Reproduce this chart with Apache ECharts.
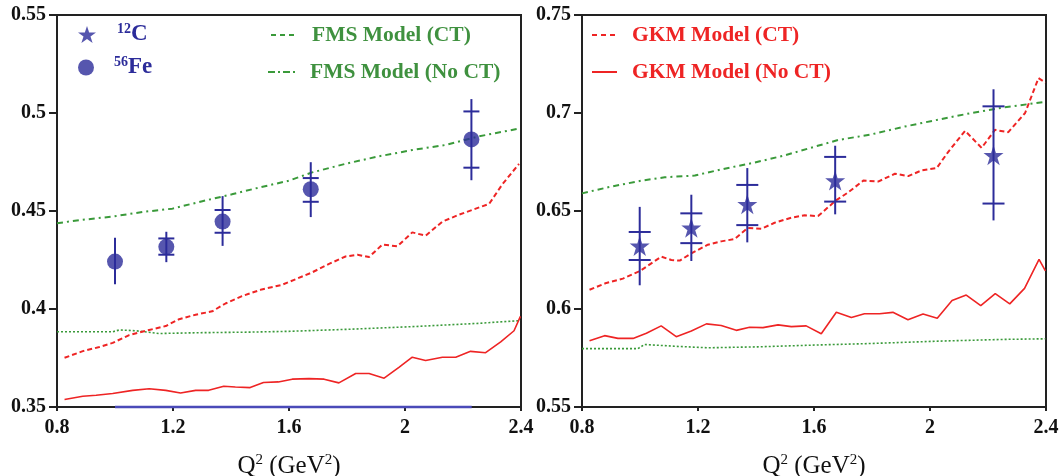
<!DOCTYPE html>
<html>
<head>
<meta charset="utf-8">
<script src="https://cdn.jsdelivr.net/npm/echarts@6/dist/echarts.min.js"></script>
<style>
  html, body { margin: 0; padding: 0; background: #fff; }
  #chart { width: 1059px; height: 476px; }
</style>
</head>
<body>
<div id="chart"></div>
<script>
// ---------- Left panel: 56Fe data and model curves ----------
const feQ2     = [1.0, 1.177, 1.371, 1.675, 2.229];
const feVal    = [0.4242, 0.4317, 0.4446, 0.4611, 0.4865];
const feErrLo  = [0.4126, 0.4239, 0.4322, 0.4469, 0.4657];
const feErrHi  = [0.4363, 0.4394, 0.4576, 0.4749, 0.5071];
const feStatLo = [null, 0.4277, 0.4389, 0.4547, 0.4721];
const feStatHi = [null, 0.4360, 0.4505, 0.4668, 0.5008];

const baseQ2  = [1.0, 2.23];
const baseVal = [0.35, 0.35];

const fmsCtLQ2 = [0.8, 0.889, 0.992, 1.095, 1.198, 1.301, 1.403, 1.495, 1.598, 1.68, 1.795, 1.91, 2.025, 2.14, 2.255, 2.398];
const fmsCtL   = [0.4438, 0.4455, 0.4472, 0.4495, 0.4512, 0.455, 0.4585, 0.4619, 0.4654, 0.4697, 0.4741, 0.4779, 0.4811, 0.4837, 0.4881, 0.4922];

const fmsNoLQ2 = [0.8, 0.992, 1.015, 1.072, 1.152, 1.289, 1.461, 1.598, 1.795, 2.025, 2.255, 2.398];
const fmsNoL   = [0.3884, 0.3884, 0.3893, 0.3889, 0.3875, 0.3879, 0.3882, 0.3886, 0.3896, 0.391, 0.3927, 0.3941];

const gkmCtLQ2 = [0.826, 0.889, 0.946, 0.992, 1.049, 1.118, 1.175, 1.221, 1.278, 1.335, 1.381, 1.438, 1.506, 1.575, 1.623, 1.68, 1.738, 1.795, 1.836, 1.876, 1.922, 1.974, 2.025, 2.071, 2.129, 2.186, 2.244, 2.29, 2.336, 2.393];
const gkmCtL   = [0.3751, 0.3785, 0.3806, 0.3827, 0.3867, 0.3893, 0.3913, 0.3948, 0.3971, 0.3988, 0.4028, 0.4066, 0.41, 0.4123, 0.4152, 0.4187, 0.423, 0.4268, 0.4277, 0.4265, 0.4329, 0.432, 0.4391, 0.4374, 0.4446, 0.4481, 0.4512, 0.4536, 0.4637, 0.474];

const gkmNoLQ2 = [0.826, 0.889, 0.935, 0.992, 1.061, 1.118, 1.175, 1.226, 1.278, 1.323, 1.375, 1.415, 1.466, 1.512, 1.563, 1.611, 1.669, 1.721, 1.772, 1.83, 1.876, 1.928, 1.979, 2.025, 2.071, 2.129, 2.175, 2.226, 2.278, 2.33, 2.376, 2.398];
const gkmNoL   = [0.3538, 0.3555, 0.356, 0.3569, 0.3585, 0.3593, 0.3585, 0.3571, 0.3585, 0.3585, 0.3606, 0.3602, 0.3599, 0.3625, 0.3628, 0.3642, 0.3645, 0.3642, 0.3623, 0.3671, 0.3671, 0.3647, 0.3702, 0.3754, 0.3737, 0.3754, 0.3754, 0.3784, 0.3777, 0.3832, 0.3889, 0.3962];

// ---------- Right panel: 12C data and model curves ----------
const cQ2     = [0.999, 1.177, 1.370, 1.673, 2.219];
const cVal    = [0.6322, 0.6414, 0.6534, 0.6655, 0.6784];
const cErrLo  = [0.6121, 0.6245, 0.6340, 0.6483, 0.6452];
const cErrHi  = [0.6521, 0.6583, 0.6719, 0.6833, 0.7121];
const cStatLo = [0.6250, 0.6336, 0.6428, 0.6548, 0.6538];
const cStatHi = [0.6393, 0.6488, 0.6633, 0.6776, 0.7034];

const fmsCtRQ2 = [0.8, 0.89, 1.005, 1.085, 1.189, 1.292, 1.395, 1.499, 1.602, 1.683, 1.798, 1.913, 2.028, 2.143, 2.258, 2.398];
const fmsCtR   = [0.659, 0.6621, 0.6655, 0.6672, 0.6681, 0.6716, 0.6747, 0.6784, 0.6828, 0.6862, 0.6891, 0.6931, 0.6966, 0.7, 0.7029, 0.7057];

const fmsNoRQ2 = [0.8, 0.993, 1.016, 1.119, 1.234, 1.407, 1.602, 1.798, 2.028, 2.258, 2.398];
const fmsNoR   = [0.5798, 0.5798, 0.5819, 0.581, 0.5802, 0.5807, 0.5816, 0.5824, 0.5836, 0.5845, 0.5848];

const gkmCtRQ2 = [0.826, 0.884, 0.941, 0.999, 1.039, 1.074, 1.108, 1.137, 1.177, 1.234, 1.28, 1.326, 1.372, 1.418, 1.464, 1.522, 1.568, 1.614, 1.674, 1.718, 1.77, 1.821, 1.879, 1.925, 1.971, 2.023, 2.063, 2.121, 2.178, 2.224, 2.27, 2.328, 2.374, 2.398];
const gkmCtR   = [0.6098, 0.6133, 0.6155, 0.6193, 0.6233, 0.6267, 0.625, 0.6247, 0.6284, 0.6328, 0.6345, 0.6357, 0.6414, 0.6409, 0.644, 0.6466, 0.6478, 0.6474, 0.6552, 0.6595, 0.6655, 0.665, 0.669, 0.6678, 0.6707, 0.6719, 0.6802, 0.6909, 0.6822, 0.6914, 0.6902, 0.7, 0.7178, 0.7155];

const gkmNoRQ2 = [0.826, 0.878, 0.924, 0.976, 1.022, 1.073, 1.125, 1.177, 1.229, 1.28, 1.332, 1.378, 1.424, 1.476, 1.522, 1.573, 1.625, 1.677, 1.729, 1.774, 1.826, 1.872, 1.924, 1.976, 2.025, 2.076, 2.125, 2.175, 2.225, 2.275, 2.326, 2.376, 2.398];
const gkmNoR   = [0.5838, 0.5864, 0.585, 0.585, 0.5876, 0.5914, 0.5859, 0.5888, 0.5924, 0.5916, 0.5891, 0.5907, 0.5905, 0.5919, 0.591, 0.5914, 0.5874, 0.5983, 0.5957, 0.5976, 0.5976, 0.5983, 0.5945, 0.5974, 0.5953, 0.6043, 0.6071, 0.6017, 0.6078, 0.6026, 0.6105, 0.6253, 0.6195];

// ---------- Axis ranges and tick labels ----------
const xRange = { min: 0.8, max: 2.4, interval: 0.4 };
const xTickLabels = ['0.8', '1.2', '1.6', '2', '2.4'];
const yRangeL = { min: 0.35, max: 0.55, interval: 0.05 };
const yTickLabelsL = ['0.35', '0.4', '0.45', '0.5', '0.55'];
const yRangeR = { min: 0.55, max: 0.75, interval: 0.05 };
const yTickLabelsR = ['0.55', '0.6', '0.65', '0.7', '0.75'];

// ---------- Styling ----------
const BLUE = '#2c2c9a';
const GREEN = '#3a9a3a';
const GREEN_TXT = '#3f913f';
const RED = '#ee2424';
const AXIS = '#222';
const SERIF = '"Liberation Serif", "Times New Roman", serif';

const STAR = 'path://M50,0 L61.8,35.5 L99,35.5 L69,57.5 L80.5,93 L50,71 L19.5,93 L31,57.5 L1,35.5 L38.2,35.5 Z';

const zip = (xs, ys) => xs.map((x, i) => [x, ys[i]]);

function tickFormatter(labels, min, step) {
  return v => labels[Math.round((v - min) / step)];
}

function xAxisFor(gridIndex) {
  return {
    type: 'value', gridIndex, min: xRange.min, max: xRange.max, interval: xRange.interval,
    name: '{n|Q}{s|2}{n| (GeV}{s|2}{n|)}',
    nameLocation: 'middle', nameGap: 46,
    nameTextStyle: {
      rich: {
        n: { fontFamily: SERIF, fontSize: 25, color: '#111', lineHeight: 26 },
        s: { fontFamily: SERIF, fontSize: 15, color: '#111', lineHeight: 15, verticalAlign: 'top' }
      }
    },
    axisLine: { show: true, lineStyle: { color: AXIS, width: 2 } },
    axisTick: { show: true, length: 4, lineStyle: { color: AXIS, width: 2 } },
    axisLabel: {
      margin: 11, fontFamily: SERIF, fontWeight: 'bold', fontSize: 20, color: '#111',
      formatter: tickFormatter(xTickLabels, xRange.min, xRange.interval)
    },
    splitLine: { show: false }
  };
}

function yAxisFor(gridIndex, range, labels) {
  return {
    type: 'value', gridIndex, min: range.min, max: range.max, interval: range.interval,
    axisLine: { show: true, lineStyle: { color: AXIS, width: 2 } },
    axisTick: { show: true, length: 8, lineStyle: { color: AXIS, width: 2 } },
    axisLabel: {
      margin: 11, fontFamily: SERIF, fontWeight: 'bold', fontSize: 20, color: '#111',
      formatter: tickFormatter(labels, range.min, range.interval)
    },
    splitLine: { show: false }
  };
}

// vertical error bar with two short crossbars marking the inner uncertainty
function errorBars(capHalf) {
  return function (params, api) {
    const x = api.value(0);
    const lo = api.coord([x, api.value(1)]);
    const hi = api.coord([x, api.value(2)]);
    const children = [{
      type: 'line',
      shape: { x1: lo[0], y1: lo[1], x2: hi[0], y2: hi[1] },
      style: { stroke: BLUE, lineWidth: 2 }
    }];
    [3, 4].forEach(k => {
      const v = api.value(k);
      if (v === null || v === undefined || isNaN(v)) return;
      const p = api.coord([x, v]);
      children.push({
        type: 'line',
        shape: { x1: p[0] - capHalf, y1: p[1], x2: p[0] + capHalf, y2: p[1] },
        style: { stroke: BLUE, lineWidth: 2 }
      });
    });
    return { type: 'group', children };
  };
}

function lineSeries(name, idx, xs, ys, color, type, width) {
  return {
    name, type: 'line', xAxisIndex: idx, yAxisIndex: idx,
    data: zip(xs, ys), symbol: 'none', smooth: false,
    lineStyle: { color, type, width }, itemStyle: { color },
    silent: true, z: 3
  };
}

const DASH_DOT = [6, 4, 2, 4];
const DOTTED = [2, 2];
const DASHED = [5, 3];

// legend entry for a model curve: a line sample followed by coloured bold text
function curveLegend(name, left, top, color, dash, itemWidth, gap) {
  return {
    show: true, selectedMode: false, left, top, padding: 0, orient: 'horizontal',
    itemWidth, itemHeight: 14, itemGap: 0,
    data: [{
      name,
      lineStyle: { type: dash, width: 2, color },
      itemStyle: { opacity: 0 }
    }],
    textStyle: {
      fontFamily: SERIF, fontWeight: 'bold', fontSize: 21.5, color: color === GREEN ? GREEN_TXT : color,
      padding: [0, 0, 0, gap]
    }
  };
}

const dataRich = {
  g: { width: 16 },
  s: { fontFamily: SERIF, fontWeight: 'bold', fontSize: 14, color: BLUE, lineHeight: 13, verticalAlign: 'top' },
  b: { fontFamily: SERIF, fontWeight: 'bold', fontSize: 23, color: BLUE, lineHeight: 25 }
};

const option = {
  backgroundColor: '#ffffff',
  animation: false,
  grid: [
    { left: 57, top: 15, width: 464, height: 392, show: true, borderColor: AXIS, borderWidth: 2, outerBoundsMode: 'none', containLabel: false },
    { left: 582, top: 15, width: 464, height: 392, show: true, borderColor: AXIS, borderWidth: 2, outerBoundsMode: 'none', containLabel: false }
  ],
  xAxis: [xAxisFor(0), xAxisFor(1)],
  yAxis: [yAxisFor(0, yRangeL, yTickLabelsL), yAxisFor(1, yRangeR, yTickLabelsR)],
  legend: [
    {
      show: true, selectedMode: false, left: 73, top: 17, itemWidth: 18, itemHeight: 18,
      data: [{ name: '12C', icon: STAR, itemStyle: { color: BLUE } }],
      formatter: () => '{g|}{s|12}{b|C}',
      textStyle: { rich: dataRich, padding: [0, 0, 0, 0] }
    },
    {
      show: true, selectedMode: false, left: 73, top: 50, itemWidth: 16, itemHeight: 16,
      data: [{ name: '56Fe', icon: 'circle', itemStyle: { color: BLUE } }],
      formatter: () => '{g|}{s|56}{b|Fe}',
      textStyle: { rich: Object.assign({}, dataRich, { g: { width: 15 } }), padding: [0, 0, 0, 0] }
    },
    curveLegend('FMS Model (CT)', 270, 24, GREEN, [5, 4], 27, 9),
    curveLegend('FMS Model (No CT)', 267, 61, GREEN, [7, 3, 2, 3], 30, 7),
    curveLegend('GKM Model (CT)', 591, 24, RED, [5, 4], 25, 10),
    curveLegend('GKM Model (No CT)', 591, 61, RED, 'solid', 25, 10)
  ],
  series: [
    // left panel
    lineSeries('FMS Model (CT)', 0, fmsCtLQ2, fmsCtL, GREEN, DASH_DOT, 2),
    lineSeries('FMS Model (No CT)', 0, fmsNoLQ2, fmsNoL, GREEN, DOTTED, 1.6),
    lineSeries('GKM Model (CT)', 0, gkmCtLQ2, gkmCtL, RED, DASHED, 2),
    lineSeries('GKM Model (No CT)', 0, gkmNoLQ2, gkmNoL, RED, 'solid', 1.6),
    {
      name: 'Fe baseline', type: 'line', xAxisIndex: 0, yAxisIndex: 0,
      data: zip(baseQ2, baseVal), symbol: 'none', clip: false, silent: true,
      lineStyle: { color: '#4a4ab8', width: 2.5 }, z: 4
    },
    {
      name: 'Fe errors', type: 'custom', xAxisIndex: 0, yAxisIndex: 0,
      renderItem: errorBars(8), silent: true, z: 5,
      data: feQ2.map((q, i) => [q, feErrLo[i], feErrHi[i], feStatLo[i], feStatHi[i]]),
      encode: { x: 0, y: [1, 2] }
    },
    {
      name: '56Fe', type: 'scatter', xAxisIndex: 0, yAxisIndex: 0,
      data: zip(feQ2, feVal), symbol: 'circle', symbolSize: 16,
      itemStyle: { color: BLUE }, silent: true, z: 6
    },
    // right panel
    lineSeries('FMS Model (CT)', 1, fmsCtRQ2, fmsCtR, GREEN, DASH_DOT, 2),
    lineSeries('FMS Model (No CT)', 1, fmsNoRQ2, fmsNoR, GREEN, DOTTED, 1.6),
    lineSeries('GKM Model (CT)', 1, gkmCtRQ2, gkmCtR, RED, DASHED, 2),
    lineSeries('GKM Model (No CT)', 1, gkmNoRQ2, gkmNoR, RED, 'solid', 1.6),
    {
      name: 'C errors', type: 'custom', xAxisIndex: 1, yAxisIndex: 1,
      renderItem: errorBars(11), silent: true, z: 5,
      data: cQ2.map((q, i) => [q, cErrLo[i], cErrHi[i], cStatLo[i], cStatHi[i]]),
      encode: { x: 0, y: [1, 2] }
    },
    {
      name: '12C', type: 'scatter', xAxisIndex: 1, yAxisIndex: 1,
      data: zip(cQ2, cVal), symbol: STAR, symbolSize: 20,
      itemStyle: { color: BLUE }, silent: true, z: 6
    }
  ]
};

const chart = echarts.init(document.getElementById('chart'), null, { renderer: 'canvas' });
chart.setOption(option);
</script>
</body>
</html>
